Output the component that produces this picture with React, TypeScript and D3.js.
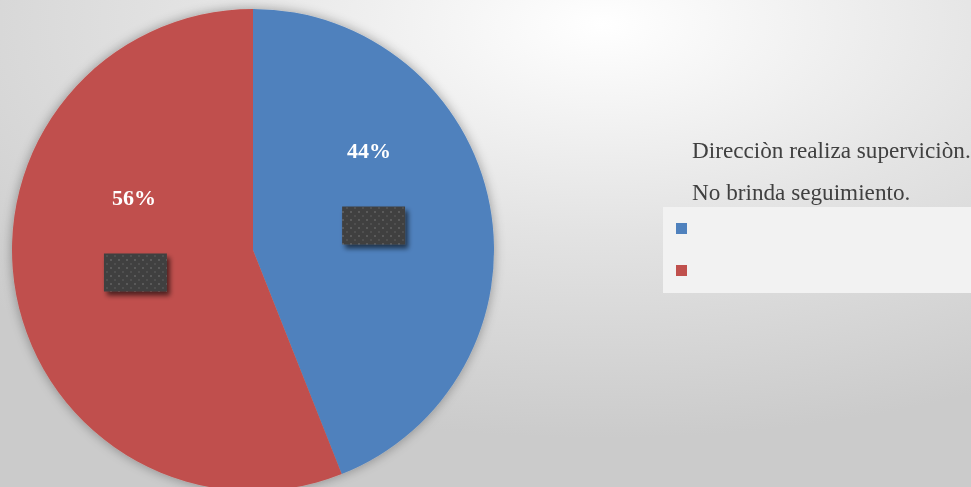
import React from "react";
import * as d3 from "d3";

const categories = ["Direcciòn realiza superviciòn.", "No brinda seguimiento."];
const values = [44, 56];
const colors = ["#4F81BD", "#C0504D"];

const W = 971;
const H = 487;

export default function App() {
  const cx = 253, cy = 250, r = 241;
  const pie = d3.pie<number>().sort(null).value((d) => d)(values);
  const arc = d3.arc<d3.PieArcDatum<number>>().innerRadius(0).outerRadius(r);
  const total = d3.sum(values);
  const boxArc = d3.arc<d3.PieArcDatum<number>>().innerRadius(r * 0.52).outerRadius(r * 0.52);
  const legendY = d3.scaleBand().domain(categories).range([158, 158 + 84]);
  const labelDx = [-7, 4];
  const boxDx = [-1, 7];
  return (
    <svg width={W} height={H} style={{ position: "fixed", left: 0, top: 0, display: "block" }}>
      <defs>
        <radialGradient id="bg" cx="62%" cy="5%" r="85%" gradientUnits="objectBoundingBox">
          <stop offset="0%" stopColor="#ffffff" />
          <stop offset="50%" stopColor="#e3e3e3" />
          <stop offset="100%" stopColor="#cbcbcb" />
        </radialGradient>
        <pattern id="dots" width="8" height="8" patternUnits="userSpaceOnUse">
          <rect width="8" height="8" fill="#404040" />
          <rect x="1" y="1" width="2" height="2" fill="#5a5a5a" />
          <rect x="5" y="5" width="2" height="2" fill="#505050" />
        </pattern>
        <filter id="shadow" x="-30%" y="-30%" width="170%" height="180%">
          <feGaussianBlur in="SourceAlpha" stdDeviation="2.5" />
          <feOffset dx="3" dy="4" result="b" />
          <feComponentTransfer><feFuncA type="linear" slope="0.6" /></feComponentTransfer>
          <feMerge><feMergeNode /><feMergeNode in="SourceGraphic" /></feMerge>
        </filter>
        <filter id="pieShadow" x="-10%" y="-10%" width="120%" height="120%">
          <feGaussianBlur in="SourceAlpha" stdDeviation="6" />
          <feComponentTransfer><feFuncA type="linear" slope="0.35" /></feComponentTransfer>
          <feMerge><feMergeNode /><feMergeNode in="SourceGraphic" /></feMerge>
        </filter>
      </defs>
      <rect width={W} height={H} fill="url(#bg)" />
      <g transform={`translate(${cx},${cy})`} filter="url(#pieShadow)">
        {pie.map((d, i) => (
          <path key={i} d={arc(d) || ""} fill={colors[i]} />
        ))}
      </g>
      <g transform={`translate(${cx},${cy})`}>
        {pie.map((d, i) => {
          const [bx, by] = boxArc.centroid(d);
          const pct = Math.round((d.value / total) * 100) + "%";
          return (
            <g key={i}>
              <text x={bx + labelDx[i]} y={by - 74} textAnchor="middle"
                fill="#ffffff" fontFamily="'Liberation Serif', serif" fontWeight="bold" fontSize={22}
                dominantBaseline="middle">{pct}</text>
              <rect x={bx + boxDx[i] - 33} y={by - 20} width={63} height={38}
                fill="url(#dots)" filter="url(#shadow)" />
            </g>
          );
        })}
      </g>
      <rect x={663} y={207} width={310} height={86} fill="#f2f2f2" />
      {categories.map((c, i) => (
        <g key={c}>
          <text x={692} y={legendY(c) || 0} fill="#404040" fontFamily="'Liberation Serif', serif" fontSize={23.2}>{c}</text>
          <rect x={676} y={223 + i * 42} width={11} height={11} fill={colors[i]} />
        </g>
      ))}
    </svg>
  );
}
